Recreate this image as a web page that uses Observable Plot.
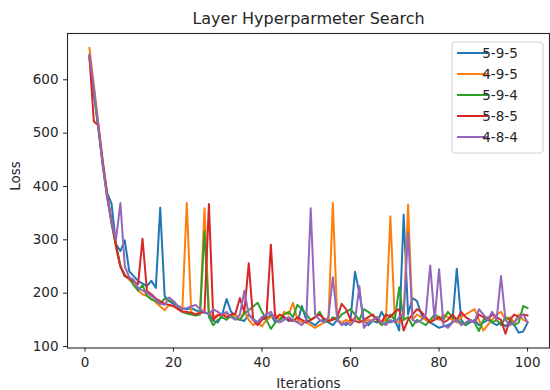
<!DOCTYPE html>
<html><head><meta charset="utf-8">
<script src="https://cdn.jsdelivr.net/npm/d3@7"></script>
<script src="https://cdn.jsdelivr.net/npm/@observablehq/plot@0.6"></script>
<style>body{margin:0;background:#fff}#chart{width:550px;height:390px}</style>
</head><body><div id="chart"></div>
<script>
const iterations = d3.range(1, 101);
const seriesNames = ["5-9-5", "4-9-5", "5-9-4", "5-8-5", "4-8-4"];
const seriesColors = ["#1f77b4", "#ff7f0e", "#2ca02c", "#d62728", "#9467bd"];
const xTicks = [0, 20, 40, 60, 80, 100];
const yTicks = [100, 200, 300, 400, 500, 600];
const titleText = "Layer Hyperparmeter Search";
const xLabel = "Iterations";
const yLabel = "Loss";

const loss595 = [645,578,510,445,388,368,292,279,299,241, 232,223,218,213,223,210,360,195,185,180,
 176,172,170,172,168,165,163,162,148,145, 160,189,165,158,150,148,160,152,145,155,
 150,160,145,150,155,148,150,145,176,150, 145,140,148,150,145,140,150,145,140,150,
 240,200,150,140,148,145,165,150,145,150, 130,347,160,191,185,160,150,145,140,135,
 138,140,145,246,150,140,145,150,140,145, 150,145,140,145,138,145,140,126,128,145];
const loss495 = [660,590,520,450,385,335,285,250,235,225, 218,205,198,195,190,183,175,168,178,175,
 172,170,369,165,160,165,359,165,155,160, 158,162,155,160,150,165,150,140,145,138,
 150,155,160,150,165,160,182,150,145,145, 140,135,140,145,148,369,150,145,150,145,
 155,150,145,150,148,155,145,150,344,150, 145,150,366,150,160,155,150,145,155,150,
 160,155,150,145,155,160,165,170,150,130, 140,150,160,165,150,155,145,160,150,146];
const loss594 = [640,575,510,440,380,330,290,252,232,228, 215,205,215,195,188,185,180,190,185,185,
 175,165,162,160,158,160,316,155,140,150, 155,150,158,152,150,162,168,175,182,165,
 150,133,145,150,160,165,155,178,170,160, 150,155,165,150,145,155,150,160,165,170,
 160,150,170,165,158,150,140,145,160,150, 211,150,155,138,150,145,140,150,160,155,
 150,165,155,150,145,140,150,145,129,150, 155,145,150,140,155,150,140,145,176,172];
const loss585 = [645,522,515,445,385,335,290,250,232,228, 222,217,302,204,198,190,185,180,178,176,
 170,165,165,163,160,163,165,367,150,158, 160,155,160,162,191,165,256,150,140,150,
 155,291,150,160,155,150,148,155,150,145, 150,155,160,152,148,150,155,180,170,150,
 148,145,150,155,160,150,145,160,155,165, 170,130,150,160,170,165,155,145,150,155,
 145,150,160,150,165,155,150,145,160,155, 150,160,155,150,124,150,160,155,160,158];
const loss484 = [648,585,515,440,380,335,300,369,250,230, 225,210,205,200,195,188,180,178,192,185,
 175,170,172,175,178,170,165,160,170,165, 160,165,155,150,160,204,160,150,145,155,
 160,165,150,145,150,155,150,145,140,150, 359,160,150,145,155,230,150,140,145,140,
 150,213,135,145,150,155,145,140,150,145, 155,160,313,150,145,150,160,252,150,245,
 140,135,145,150,140,145,150,145,170,160, 150,165,150,232,150,140,145,155,160,145];

const allLoss = [loss595, loss495, loss594, loss585, loss484];
const data = [];
seriesNames.forEach((name, k) => {
  iterations.forEach((it, i) => data.push({series: name, iter: it, loss: allLoss[k][i]}));
});

const xMin = d3.min(iterations), xMax = d3.max(iterations);
const xPad = (xMax - xMin) * 0.05;
const yMin = d3.min(data, d => d.loss), yMax = d3.max(data, d => d.loss);
const yPad = (yMax - yMin) * 0.05;

const textColor = "#262626";
const plot = Plot.plot({
  width: 550, height: 390,
  marginLeft: 67, marginRight: 1, marginTop: 33, marginBottom: 42.5,
  style: {fontFamily: "DejaVu Sans", fontSize: "13.5px", background: "white", color: textColor},
  x: {domain: [xMin - xPad, xMax + xPad]},
  y: {domain: [yMin - yPad, yMax + yPad]},
  color: {domain: seriesNames, range: seriesColors},
  marks: [
    Plot.line(data, {x: "iter", y: "loss", z: "series", stroke: "series", strokeWidth: 2}),
    Plot.frame({stroke: textColor, strokeWidth: 1.1}),
    Plot.axisX({ticks: xTicks, tickSize: 4, tickPadding: 5, label: null, fontSize: 13.5}),
    Plot.axisY({ticks: yTicks, tickSize: 4, tickPadding: 5, label: null, fontSize: 13.5}),
    Plot.text([titleText], {text: d => d, frameAnchor: "top", lineAnchor: "middle", dy: -15, fontSize: 16}),
    Plot.text([xLabel], {text: d => d, frameAnchor: "bottom", lineAnchor: "middle", dy: 35.5, fontSize: 13.5}),
    Plot.text([yLabel], {text: d => d, frameAnchor: "left", lineAnchor: "middle", dx: -52, rotate: -90, fontSize: 13.5})
  ]
});
document.getElementById("chart").appendChild(plot);

// legend
const svg = d3.select(plot);
const lg = svg.append("g").attr("font-family", "DejaVu Sans").attr("font-size", 13.5);
lg.append("rect").attr("x", 452).attr("y", 42).attr("width", 91).attr("height", 111)
  .attr("rx", 3).attr("fill", "white").attr("fill-opacity", 0.85).attr("stroke", "#d0d0d0");
seriesNames.forEach((name, k) => {
  const yy = 53 + k * 21;
  lg.append("line").attr("x1", 457).attr("x2", 488).attr("y1", yy).attr("y2", yy)
    .attr("stroke", seriesColors[k]).attr("stroke-width", 2);
  lg.append("text").attr("x", 500).attr("y", yy).attr("dy", "0.35em").attr("fill", textColor).text(name);
});
</script></body></html>
